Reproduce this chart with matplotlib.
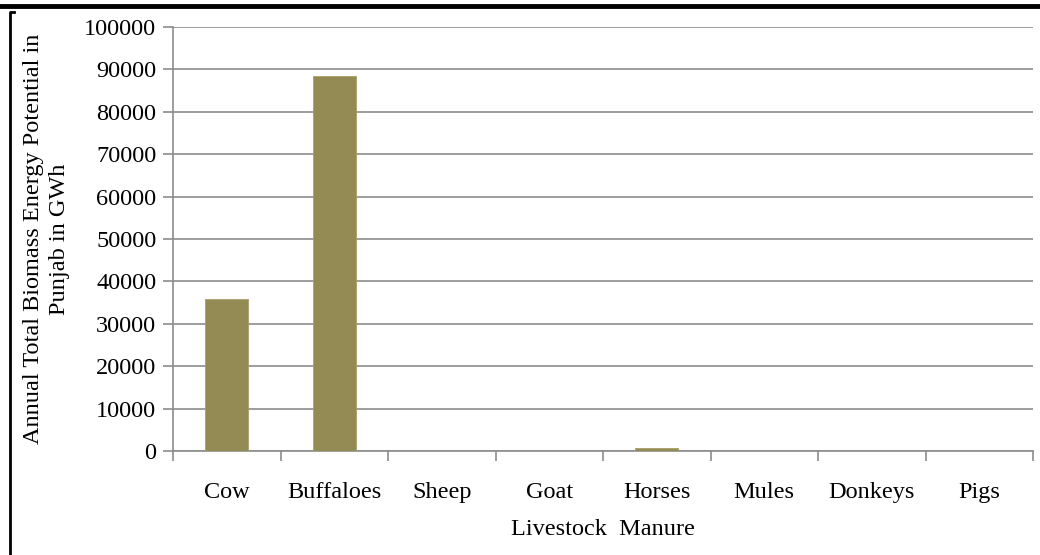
import matplotlib
matplotlib.use('Agg')
import matplotlib.pyplot as plt
import numpy as np
from matplotlib.lines import Line2D

# annual biomass energy potential from livestock manure (GWh)
animals = ['Cow', 'Buffaloes', 'Sheep', 'Goat', 'Horses', 'Mules', 'Donkeys', 'Pigs']
energy_gwh = [35800, 88400, 40, 90, 650, 20, 30, 10]
y_ticks = [0, 10000, 20000, 30000, 40000, 50000, 60000, 70000, 80000, 90000, 100000]

plt.rcParams['font.family'] = ['Liberation Serif', 'DejaVu Serif']
fs = 17.5

fig = plt.figure(figsize=(10.4, 5.55), dpi=100)
ax = fig.add_axes([173/1040, 1 - 451/555, 860/1040, 424/555])

x = np.arange(len(animals))
ax.bar(x, energy_gwh, width=0.4, color='#948a54', edgecolor='#a89e6a', linewidth=0.6, zorder=3)

ax.set_xlim(-0.5, len(animals) - 0.5)
ax.set_ylim(0, 100000)
ax.set_yticks(y_ticks)
ax.set_yticklabels([str(v) for v in y_ticks], fontsize=fs)
ax.yaxis.grid(True, color='#8c8c8c', linewidth=1.2, zorder=0)

# category labels centred, tick marks between categories
ax.set_xticks(x)
ax.set_xticklabels(animals, fontsize=fs)
ax.tick_params(axis='x', length=0, pad=22)
ax.set_xticks(np.arange(-0.5, len(animals)), minor=True)
ax.tick_params(axis='x', which='minor', length=7, color='#8c8c8c', width=1.2)
ax.tick_params(axis='y', length=7, color='#8c8c8c', width=1.2, pad=5)

for side in ['top', 'right']:
    ax.spines[side].set_visible(False)
for side in ['left', 'bottom']:
    ax.spines[side].set_color('#8c8c8c')
    ax.spines[side].set_linewidth(1.2)

ax.set_xlabel('Livestock  Manure', fontsize=fs, labelpad=12)
ax.set_ylabel('Annual Total Biomass Energy Potential in\nPunjab in GWh', fontsize=fs,
              linespacing=1.35, labelpad=10)

# page border pieces around the figure
fig.add_artist(Line2D([0, 1], [1 - 6/555, 1 - 6/555], color='black', linewidth=3.5,
                      transform=fig.transFigure))
fig.add_artist(Line2D([14/1040, 10/1040, 10/1040], [1 - 12/555, 1 - 12/555, 0], color='black',
                      linewidth=2, transform=fig.transFigure))

fig.savefig('out.png', dpi=100)
